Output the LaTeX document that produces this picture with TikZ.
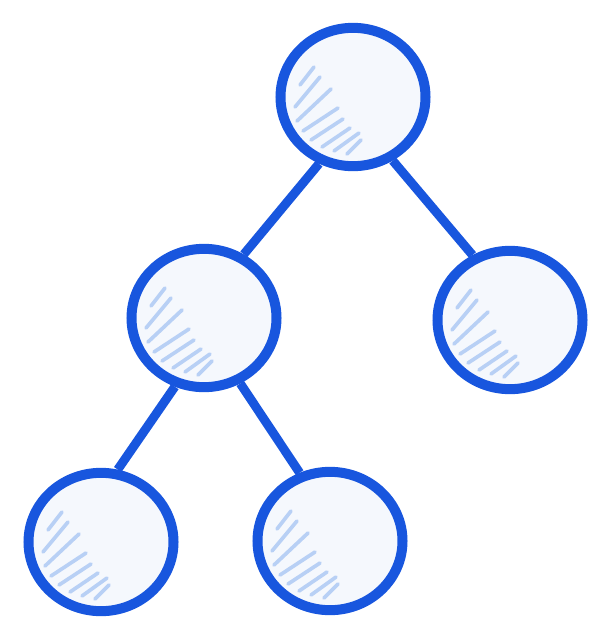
\documentclass[tikz,border=0pt]{standalone}
\usepackage{tikz}
\usetikzlibrary{shapes.geometric}
\definecolor{treeblue}{RGB}{24,86,222}
\definecolor{nodefill}{RGB}{245,248,253}
\definecolor{hatchblue}{RGB}{184,208,245}
\tikzset{%
  tree node/.style={
    ellipse,
    draw=treeblue,
    fill=nodefill,
    line width=0.3cm,
    inner sep=0pt,
    minimum width=4.35cm,
    minimum height=4.15cm,
    path picture={
      \begin{scope}[shift={(path picture bounding box.center)}]
        \foreach \xa/\ya/\xb/\yb in {-53/-12/-39/-30, -58/10/-33/-20, -56/24/-22/-8,
                                     -50/34/-15/11, -42/43/-10/22, -31/50/-3/31,
                                     -19/54/6/36, -6/57/8/43}
          \draw[hatch line] (\xa,\ya) -- (\xb,\yb);
      \end{scope}
    }
  },
  hatch line/.style={
    draw=hatchblue,
    line width=0.11cm,
    line cap=round
  },
  tree edge/.style={
    draw=treeblue,
    line width=0.27cm
  },
}

\begin{document}
\begin{tikzpicture}[x=0.03cm, y=-0.03cm]
\useasboundingbox (0,0) rectangle (611,642);
    % nodes
    \node[tree node] (root) at (353,97) {};
    \node[tree node] (mid_left) at (204,318) {};
    \node[tree node] (mid_right) at (510,320) {};
    \node[tree node] (bot_left) at (101,542) {};
    \node[tree node] (bot_mid) at (330,541) {};
    % edges
    \draw[tree edge] (root.-117) -- (mid_left.58);
    \draw[tree edge] (root.-58) -- (mid_right.120);
    \draw[tree edge] (mid_left.-113) -- (bot_left.77);
    \draw[tree edge] (mid_left.-61) -- (bot_mid.114);
\end{tikzpicture}
\end{document}
